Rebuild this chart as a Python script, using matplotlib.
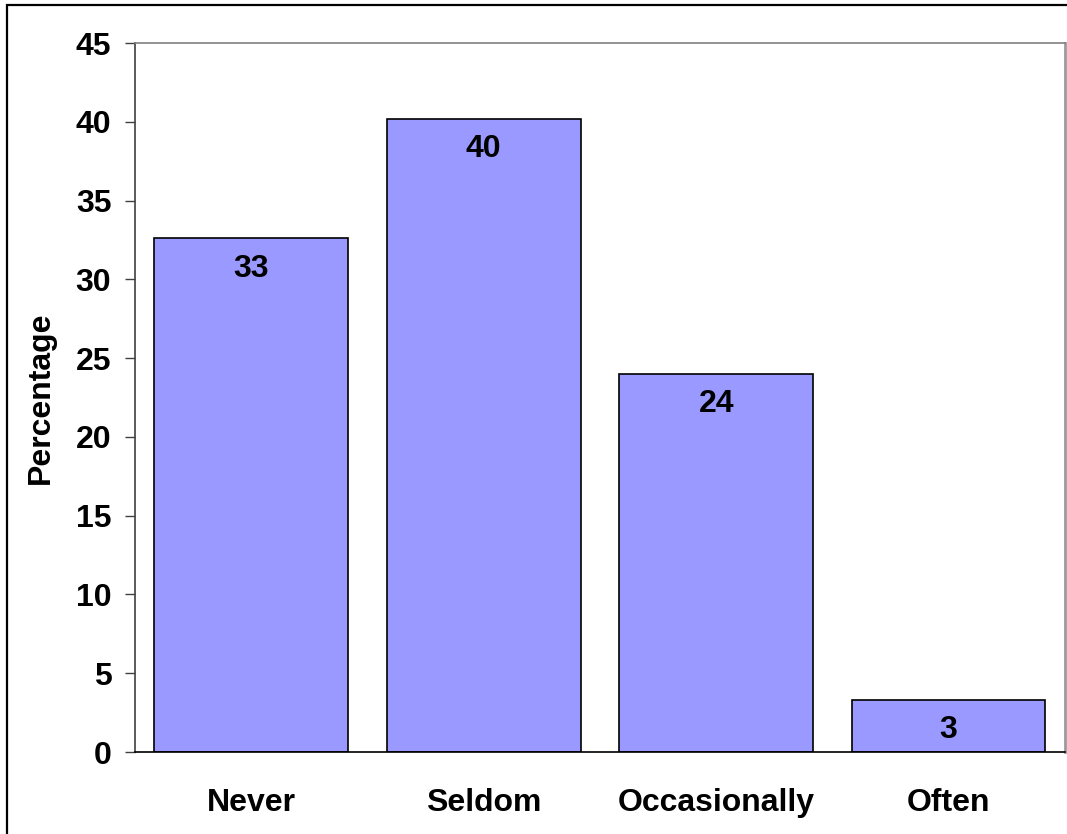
import matplotlib.pyplot as plt
from matplotlib.patches import Rectangle

# ---------------------------------------------
# DATA
# ---------------------------------------------
categories = ["Never", "Seldom", "Occasionally", "Often"]
percentages = [32.6, 40.2, 24.0, 3.3]
y_ticks = [0, 5, 10, 15, 20, 25, 30, 35, 40, 45]

BAR_COLOR = "#9999FF"
FS = 23

plt.rcParams["font.family"] = ["Liberation Sans", "DejaVu Sans"]
plt.rcParams["font.weight"] = "bold"

fig = plt.figure(figsize=(10.67, 8.34), dpi=100)
ax = fig.add_axes([0.1265, 0.0983, 0.8715, 0.8501])

x = range(len(categories))
bars = ax.bar(x, percentages, width=1 / 1.2, color=BAR_COLOR,
              edgecolor="black", linewidth=1.2, zorder=2)

# value labels just under the top of each bar
for b, v in zip(bars, percentages):
    ax.annotate(f"{v:.0f}", (b.get_x() + b.get_width() / 2, v),
                xytext=(0, -11), textcoords="offset points",
                ha="center", va="top", fontsize=FS, fontweight="bold")

ax.set_xlim(-0.5, len(categories) - 0.5)
ax.set_ylim(0, 45)
ax.set_yticks(y_ticks)
ax.set_xticks(list(x))
ax.set_xticklabels(categories)

ax.tick_params(axis="y", length=7, width=1, color="#404040", pad=10, labelsize=FS)
ax.tick_params(axis="x", length=0, pad=26, labelsize=FS)
for lbl in ax.get_xticklabels() + ax.get_yticklabels():
    lbl.set_fontweight("bold")

ax.set_ylabel("Percentage", fontsize=FS, fontweight="bold", labelpad=14)

ax.spines["left"].set_color("#404040")
ax.spines["bottom"].set_color("black")
ax.spines["top"].set_color("#808080")
ax.spines["right"].set_color("#9a9a9a")
for s in ["left", "bottom", "top"]:
    ax.spines[s].set_linewidth(1.2)
ax.spines["right"].set_linewidth(2)

# outer chart border
fig.patches.append(Rectangle((7 / 1067, -0.05), 1.1, 1 - 5 / 834 + 0.05,
                             transform=fig.transFigure, fill=False,
                             edgecolor="black", linewidth=1.6))

plt.savefig("out.png", dpi=100)
